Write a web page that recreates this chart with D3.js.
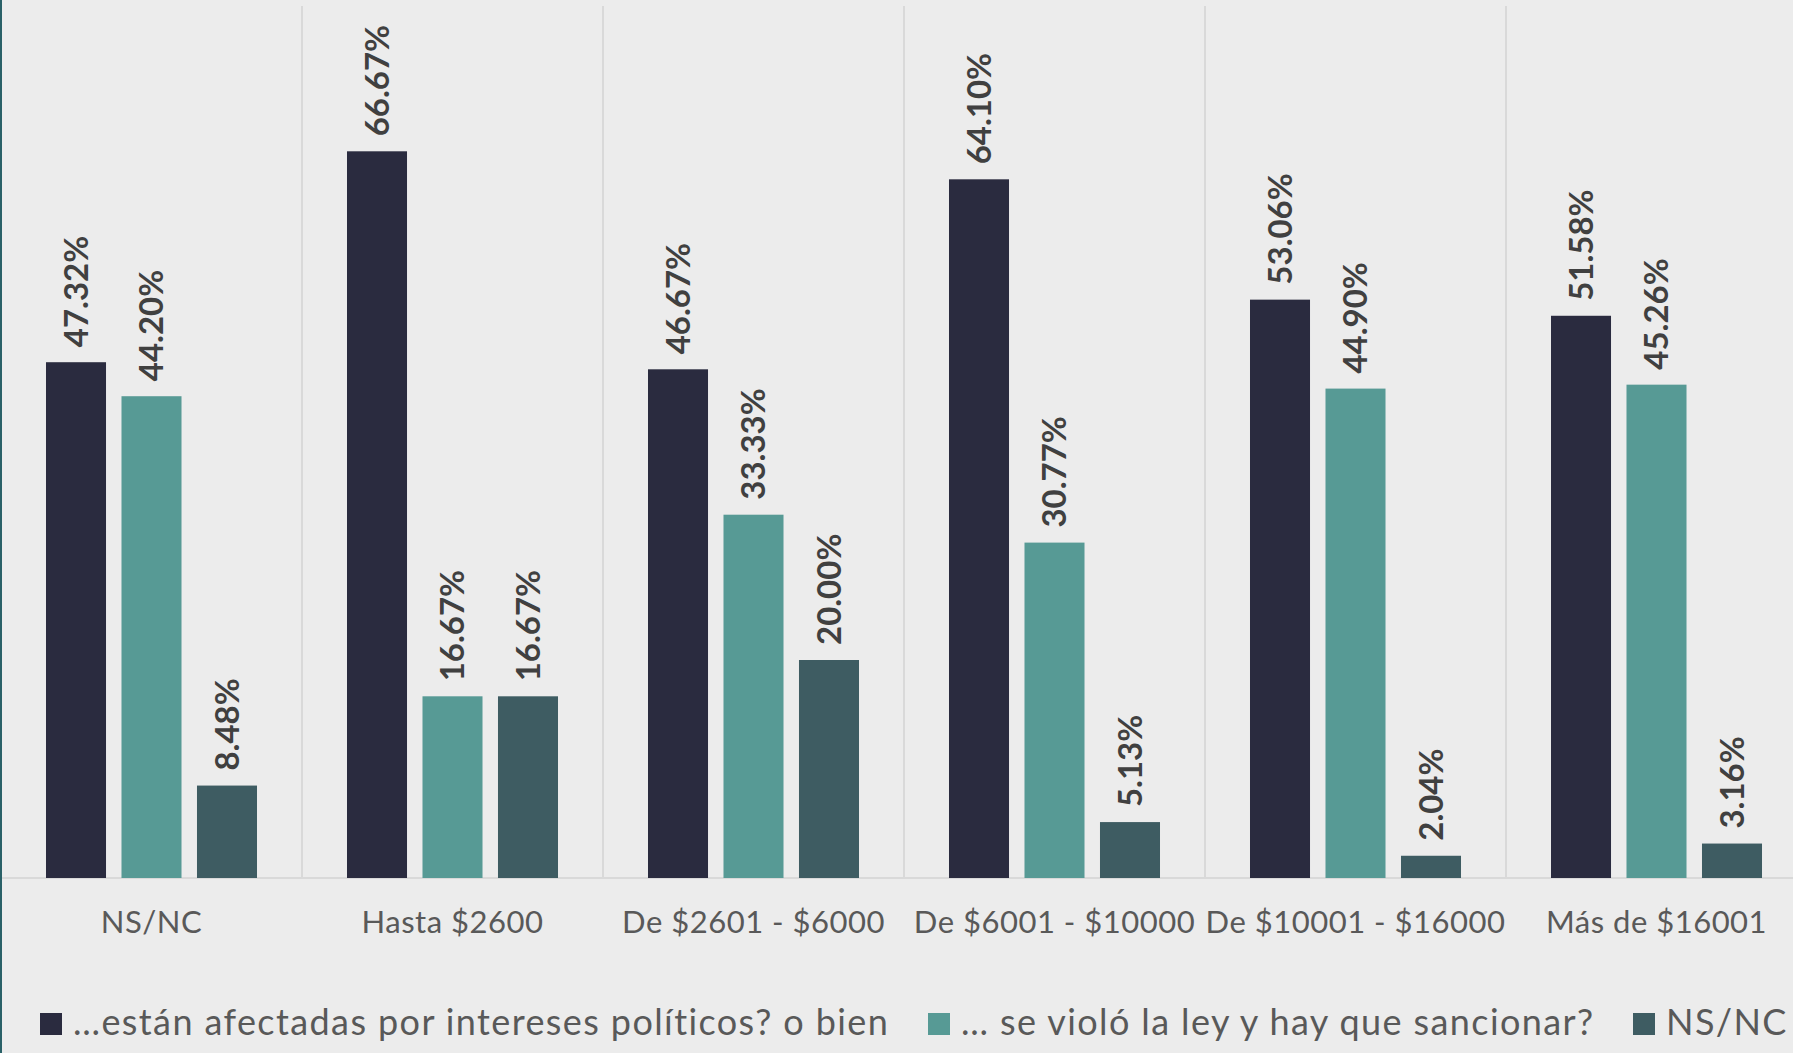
<!DOCTYPE html>
<html><head><meta charset="utf-8">
<script src="https://cdn.jsdelivr.net/npm/d3@7"></script>
<style>
html,body{margin:0;padding:0;background:#ececec;overflow:hidden;}
svg{display:block;}
</style></head>
<body>
<svg id="chart" width="1793" height="1053"></svg>
<script>
const categories = ["NS/NC","Hasta $2600","De $2601 - $6000","De $6001 - $10000","De $10001 - $16000","Más de $16001"];
const seriesNames = ["…están afectadas por intereses políticos? o bien","… se violó la ley y hay que sancionar?","NS/NC"];
const seriesA = [47.32, 66.67, 46.67, 64.10, 53.06, 51.58];
const seriesB = [44.20, 16.67, 33.33, 30.77, 44.90, 45.26];
const seriesC = [8.48, 16.67, 20.00, 5.13, 2.04, 3.16];
const colors = ["#2a2b3f","#579a95","#3e5c62"];

const allSeries = [seriesA, seriesB, seriesC];
const svg = d3.select("#chart");
const W = 1793, H = 1053;
svg.append("rect").attr("width",W).attr("height",H).attr("fill","#ececec");

const x0 = d3.scaleBand().domain(categories).range([1, 1807]).paddingInner(0).paddingOuter(0);
const x1 = d3.scaleBand().domain(d3.range(3)).range([0, x0.bandwidth()]).paddingInner(0.205).paddingOuter(0.596);
const y = d3.scaleLinear().domain([0, 80]).range([878, 6]);

// separators
const bounds = categories.map(c => x0(c)).concat([x0(categories[categories.length-1]) + x0.bandwidth()]);
svg.append("g").selectAll("line").data(bounds.slice(1)).join("line")
  .attr("x1", d => d).attr("x2", d => d).attr("y1", y(80)).attr("y2", y(0))
  .attr("stroke", "#d9d9d9").attr("stroke-width", 2);

// baseline axis
const xAxis = d3.axisBottom(x0).tickSize(0).tickPadding(0);
const gx = svg.append("g").attr("transform", `translate(0,${y(0)})`).call(xAxis);
gx.select(".domain").attr("stroke", "#d9d9d9").attr("stroke-width", 2).attr("d", `M0,0H${W}`);
gx.selectAll("text").attr("y", 55).attr("dy", 0)
  .attr("font-family", "Lato, 'Open Sans', sans-serif").attr("font-size", 31)
  .attr("letter-spacing", 0.5)
  .attr("fill", "#595959");

// bars
const groups = svg.append("g").selectAll("g").data(categories).join("g")
  .attr("transform", c => `translate(${x0(c)},0)`);
groups.selectAll("rect").data((c, i) => allSeries.map((s, k) => ({k, v: s[i]}))).join("rect")
  .attr("x", d => x1(d.k)).attr("width", x1.bandwidth())
  .attr("y", d => y(d.v)).attr("height", d => y(0) - y(d.v))
  .attr("fill", d => colors[d.k]);

groups.selectAll("text.lbl").data((c, i) => allSeries.map((s, k) => ({k, v: s[i]}))).join("text")
  .attr("class", "lbl")
  .attr("transform", d => `translate(${x1(d.k) + x1.bandwidth()/2},${y(d.v) - 15}) rotate(-90)`)
  .attr("dy", "0.36em")
  .attr("text-anchor", "start")
  .attr("font-family", "Lato, 'Open Sans', sans-serif").attr("font-weight", 700)
  .attr("font-size", 33).attr("fill", "#404040")
  .text(d => d.v.toFixed(2) + "%");

// legend
const legendX = [40, 928, 1633];
const lg = svg.append("g").selectAll("g").data(seriesNames).join("g")
  .attr("transform", (d, i) => `translate(${legendX[i]},1013)`);
lg.append("rect").attr("width", 22).attr("height", 22).attr("fill", (d, i) => colors[i]);
lg.append("text").attr("x", 33).attr("y", 22)
  .attr("font-family", "Lato, 'Open Sans', sans-serif").attr("font-size", 36)
  .attr("letter-spacing", 1.4)
  .attr("fill", "#595959").text(d => d);

// left edge line
svg.append("rect").attr("x", 0).attr("y", 0).attr("width", 2).attr("height", H).attr("fill", "#2a6168");
</script>
</body></html>
